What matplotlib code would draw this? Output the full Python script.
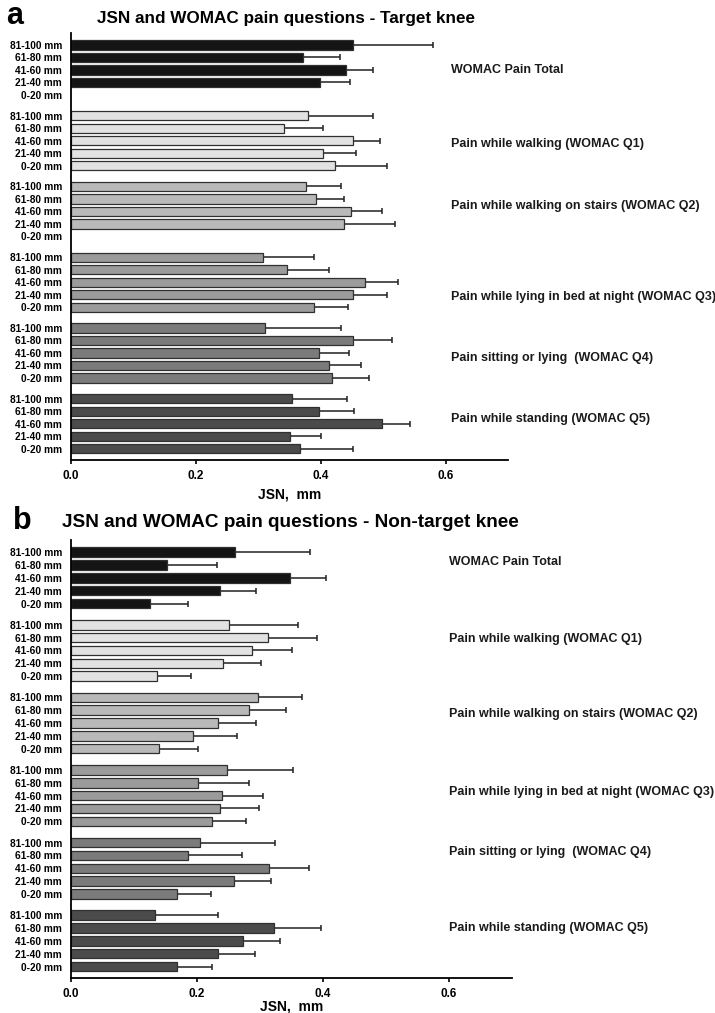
import numpy as np
import matplotlib
matplotlib.use("Agg")
import matplotlib.pyplot as plt

plt.rcParams['font.family'] = ['Liberation Sans', 'DejaVu Sans']

# categories
ranges = ['81-100 mm', '61-80 mm', '41-60 mm', '21-40 mm', '0-20 mm']
questions = ['WOMAC Pain Total',
             'Pain while walking (WOMAC Q1)',
             'Pain while walking on stairs (WOMAC Q2)',
             'Pain while lying in bed at night (WOMAC Q3)',
             'Pain sitting or lying  (WOMAC Q4)',
             'Pain while standing (WOMAC Q5)']
nan = np.nan

# panel a - target knee, mean JSN and SD (per question, rows in ranges order)
target_mean = [[0.452, 0.371, 0.440, 0.399, nan],
               [0.379, 0.341, 0.452, 0.404, 0.423],
               [0.376, 0.392, 0.449, 0.438, nan],
               [0.308, 0.346, 0.471, 0.452, 0.390],
               [0.311, 0.451, 0.398, 0.414, 0.418],
               [0.354, 0.398, 0.498, 0.350, 0.367]]
target_sd = [[0.128, 0.060, 0.044, 0.048, nan],
             [0.105, 0.062, 0.043, 0.053, 0.083],
             [0.056, 0.045, 0.049, 0.081, nan],
             [0.081, 0.068, 0.052, 0.054, 0.053],
             [0.121, 0.063, 0.048, 0.051, 0.060],
             [0.088, 0.055, 0.045, 0.051, 0.084]]

# panel b - non-target knee
nontarget_mean = [[0.260, 0.152, 0.348, 0.236, 0.125],
                  [0.250, 0.312, 0.287, 0.242, 0.136],
                  [0.297, 0.282, 0.233, 0.194, 0.140],
                  [0.247, 0.201, 0.240, 0.237, 0.224],
                  [0.204, 0.185, 0.315, 0.259, 0.169],
                  [0.134, 0.323, 0.273, 0.233, 0.168]]
nontarget_sd = [[0.119, 0.080, 0.057, 0.057, 0.060],
                [0.111, 0.078, 0.063, 0.060, 0.055],
                [0.069, 0.060, 0.060, 0.070, 0.062],
                [0.105, 0.081, 0.065, 0.061, 0.053],
                [0.120, 0.087, 0.062, 0.058, 0.053],
                [0.099, 0.074, 0.059, 0.059, 0.056]]

colors = ['#141414', '#e2e2e2', '#b9b9b9', '#9b9b9b', '#7b7b7b', '#4b4b4b']
group_step = 5.66


def draw_panel(ax, means, sds, label_rows, label_x):
    ticks, ticklabels = [], []
    for g in range(len(questions)):
        pos = g * group_step + np.arange(len(ranges))
        m = np.array(means[g], dtype=float)
        s = np.array(sds[g], dtype=float)
        ax.barh(pos, m, height=0.74, color=colors[g], edgecolor='#303030',
                linewidth=0.9, zorder=2)
        ax.errorbar(m, pos, xerr=[np.zeros_like(s), s], fmt='none',
                    ecolor='#202020', elinewidth=1.1, capsize=2.2,
                    capthick=1.1, zorder=1)
        ticks.extend(pos)
        ticklabels.extend(ranges)
        ax.text(label_x, g * group_step + label_rows[g], questions[g],
                fontsize=9, fontweight='bold', color='#1a1a1a',
                va='center', ha='left', clip_on=False)
    ax.set_yticks(ticks)
    ax.set_yticklabels(ticklabels, fontsize=7.3, fontweight='bold')
    ax.tick_params(axis='y', length=0, pad=6.5)
    ax.tick_params(axis='x', length=3, width=1.2, labelsize=8.5, pad=4)
    ax.set_xlim(0, 0.70)
    ax.set_xticks([0.0, 0.2, 0.4, 0.6])
    ax.set_xticklabels(['0.0', '0.2', '0.4', '0.6'], fontweight='bold')
    ax.set_ylim(5 * group_step + 4 + 0.9, -0.95)
    for side in ['top', 'right']:
        ax.spines[side].set_visible(False)
    ax.spines['left'].set_linewidth(1.3)
    ax.spines['bottom'].set_linewidth(1.3)


fig = plt.figure(figsize=(7.15, 10.13), dpi=100)

ax1 = fig.add_axes([0.0993, 0.5459, 0.6112, 0.4215])
draw_panel(ax1, target_mean, target_sd, [2.0, 2.3, 1.6, 3.2, 2.4, 1.6], 0.608)
ax1.set_xlabel('JSN,  mm', fontsize=10, fontweight='bold', labelpad=4)
fig.text(0.008, 0.984, 'a', fontsize=22, fontweight='bold', va='center')
fig.text(0.136, 0.982, 'JSN and WOMAC pain questions - Target knee',
         fontsize=12.3, fontweight='bold', va='center')

ax2 = fig.add_axes([0.0993, 0.0345, 0.6168, 0.4324])
draw_panel(ax2, nontarget_mean, nontarget_sd, [0.8, 1.1, 1.3, 1.7, 0.7, 1.0], 0.60)
ax2.set_xlabel('JSN,  mm', fontsize=10, fontweight='bold', labelpad=0)
fig.text(0.018, 0.486, 'b', fontsize=22, fontweight='bold', va='center')
fig.text(0.087, 0.484, 'JSN and WOMAC pain questions - Non-target knee',
         fontsize=13.7, fontweight='bold', va='center')

fig.savefig('out.png', dpi=100)
